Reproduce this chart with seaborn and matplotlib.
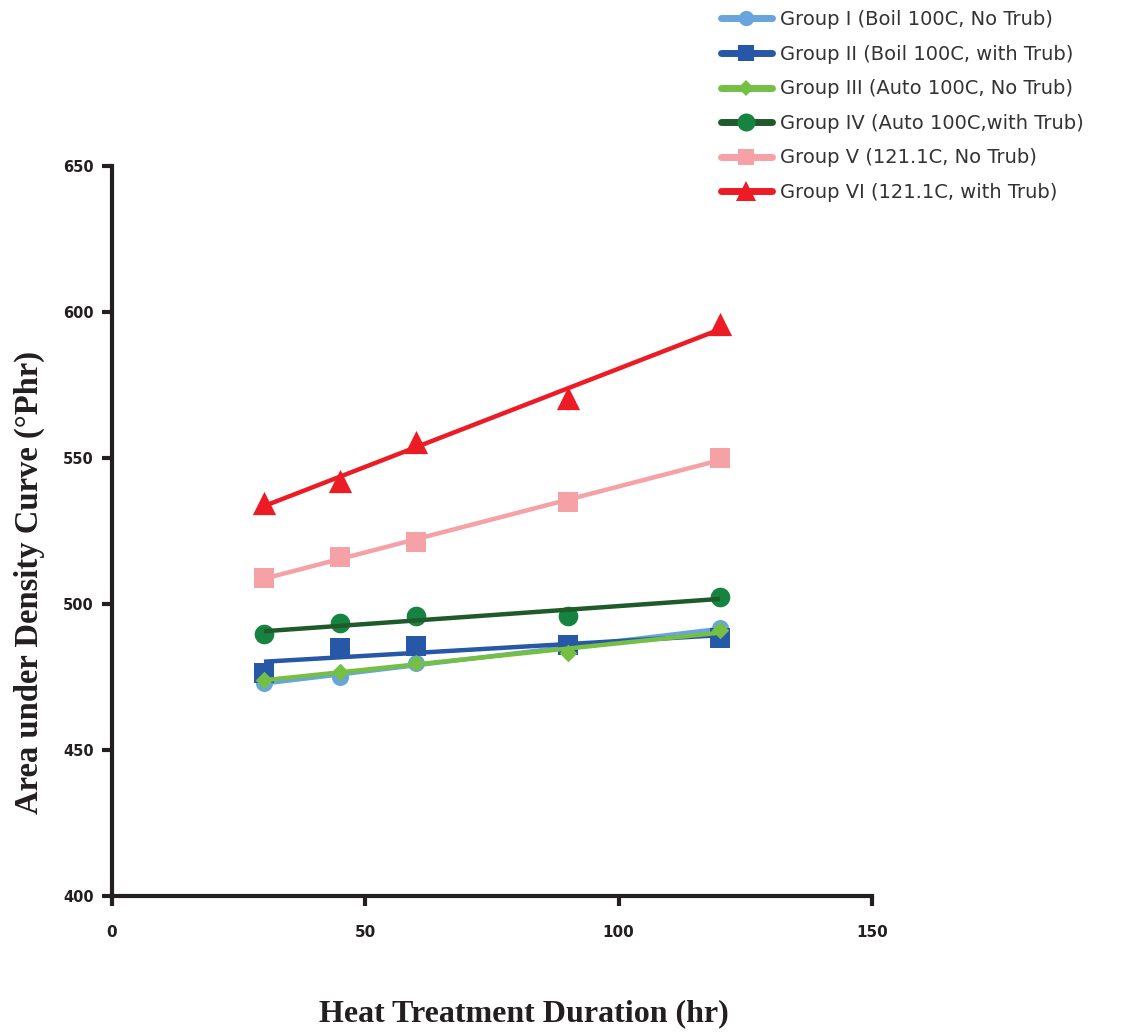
import numpy as np
import pandas as pd
import matplotlib
matplotlib.use("Agg")
import matplotlib.pyplot as plt
from matplotlib.lines import Line2D
import seaborn as sns

# ---- data ----
hours = [30, 45, 60, 90, 120]
group_names = [
    "Group I (Boil 100C, No Trub)",
    "Group II (Boil 100C, with Trub)",
    "Group III (Auto 100C, No Trub)",
    "Group IV (Auto 100C,with Trub)",
    "Group V (121.1C, No Trub)",
    "Group VI (121.1C, with Trub)",
]
g1 = [473.1, 475.1, 479.7, 484.8, 491.7]
g2 = [476.2, 484.8, 485.6, 486.0, 488.2]
g3 = [474.0, 476.8, 479.7, 483.1, 491.1]
g4 = [489.6, 493.4, 495.9, 495.9, 502.5]
g5 = [509.0, 516.2, 521.1, 534.8, 550.1]
g6 = [534.7, 542.1, 555.4, 570.6, 595.9]
values = [g1, g2, g3, g4, g5, g6]
x_ticks = [0, 50, 100, 150]
y_ticks = [400, 450, 500, 550, 600, 650]

# ---- styles ----
marker_colors = ["#68a5dc", "#2757a7", "#74bf44", "#178340", "#f5a1a5", "#ed1c24"]
line_colors = ["#68a5dc", "#2757a7", "#74bf44", "#1f5a2b", "#f5a1a5", "#ed1c24"]
markers = ["o", "s", "D", "o", "s", "^"]
msizes = [150, 190, 80, 200, 190, 280]

sns.set_theme(style="ticks")
plt.rcParams['font.family'] = ['DejaVu Sans']

fig = plt.figure(figsize=(11.46, 10.32), dpi=100)
ax = fig.add_axes([0.0977, 0.1318, 0.6632, 0.7074])

for i, (name, vals) in enumerate(zip(group_names, values)):
    df = pd.DataFrame({"x": hours, "y": vals})
    sns.regplot(data=df, x="x", y="y", ax=ax, ci=None, truncate=True,
                marker=markers[i],
                scatter_kws=dict(s=msizes[i], color=marker_colors[i], linewidths=0,
                                 alpha=1, zorder=3 + i * 2),
                line_kws=dict(color=line_colors[i], lw=3.2, zorder=4 + i * 2,
                              solid_capstyle="butt"))

ax.set_xlim(0, 150)
ax.set_ylim(400, 650)
ax.set_xticks(x_ticks)
ax.set_yticks(y_ticks)
ax.set_xticklabels([str(t) for t in x_ticks], fontsize=11, fontweight="bold", color="#231f20")
ax.set_yticklabels([str(t) for t in y_ticks], fontsize=10.5, fontweight="bold", color="#231f20")
for s in ["top", "right"]:
    ax.spines[s].set_visible(False)
for s in ["left", "bottom"]:
    ax.spines[s].set_linewidth(3)
    ax.spines[s].set_color("#231f20")
ax.tick_params(axis="both", width=3, length=7, color="#231f20", direction="out")
ax.tick_params(axis="x", pad=14)
ax.tick_params(axis="y", pad=6)

ax.set_xlabel("Heat Treatment Duration (hr)", fontsize=23, fontweight="bold",
              family="Liberation Serif", color="#231f20")
ax.set_ylabel("Area under Density Curve (°Phr)", fontsize=23.5, fontweight="bold",
              family="Liberation Serif", color="#231f20")
ax.xaxis.set_label_coords(0.542, -0.141)
ax.yaxis.set_label_coords(-0.088, 0.43)

handles = [Line2D([0], [0], color=line_colors[i], lw=5, marker=markers[i],
                  markersize=[11, 12, 8, 13, 12, 14][i], markerfacecolor=marker_colors[i],
                  markeredgewidth=0)
           for i in range(6)]
leg = fig.legend(handles, group_names, loc="upper left", bbox_to_anchor=(0.614, 1.007),
                 frameon=False, fontsize=14, handlelength=2.6, labelspacing=0.8,
                 handletextpad=0.42)
for t in leg.get_texts():
    t.set_color("#333333")

fig.savefig("out.png", dpi=100)
